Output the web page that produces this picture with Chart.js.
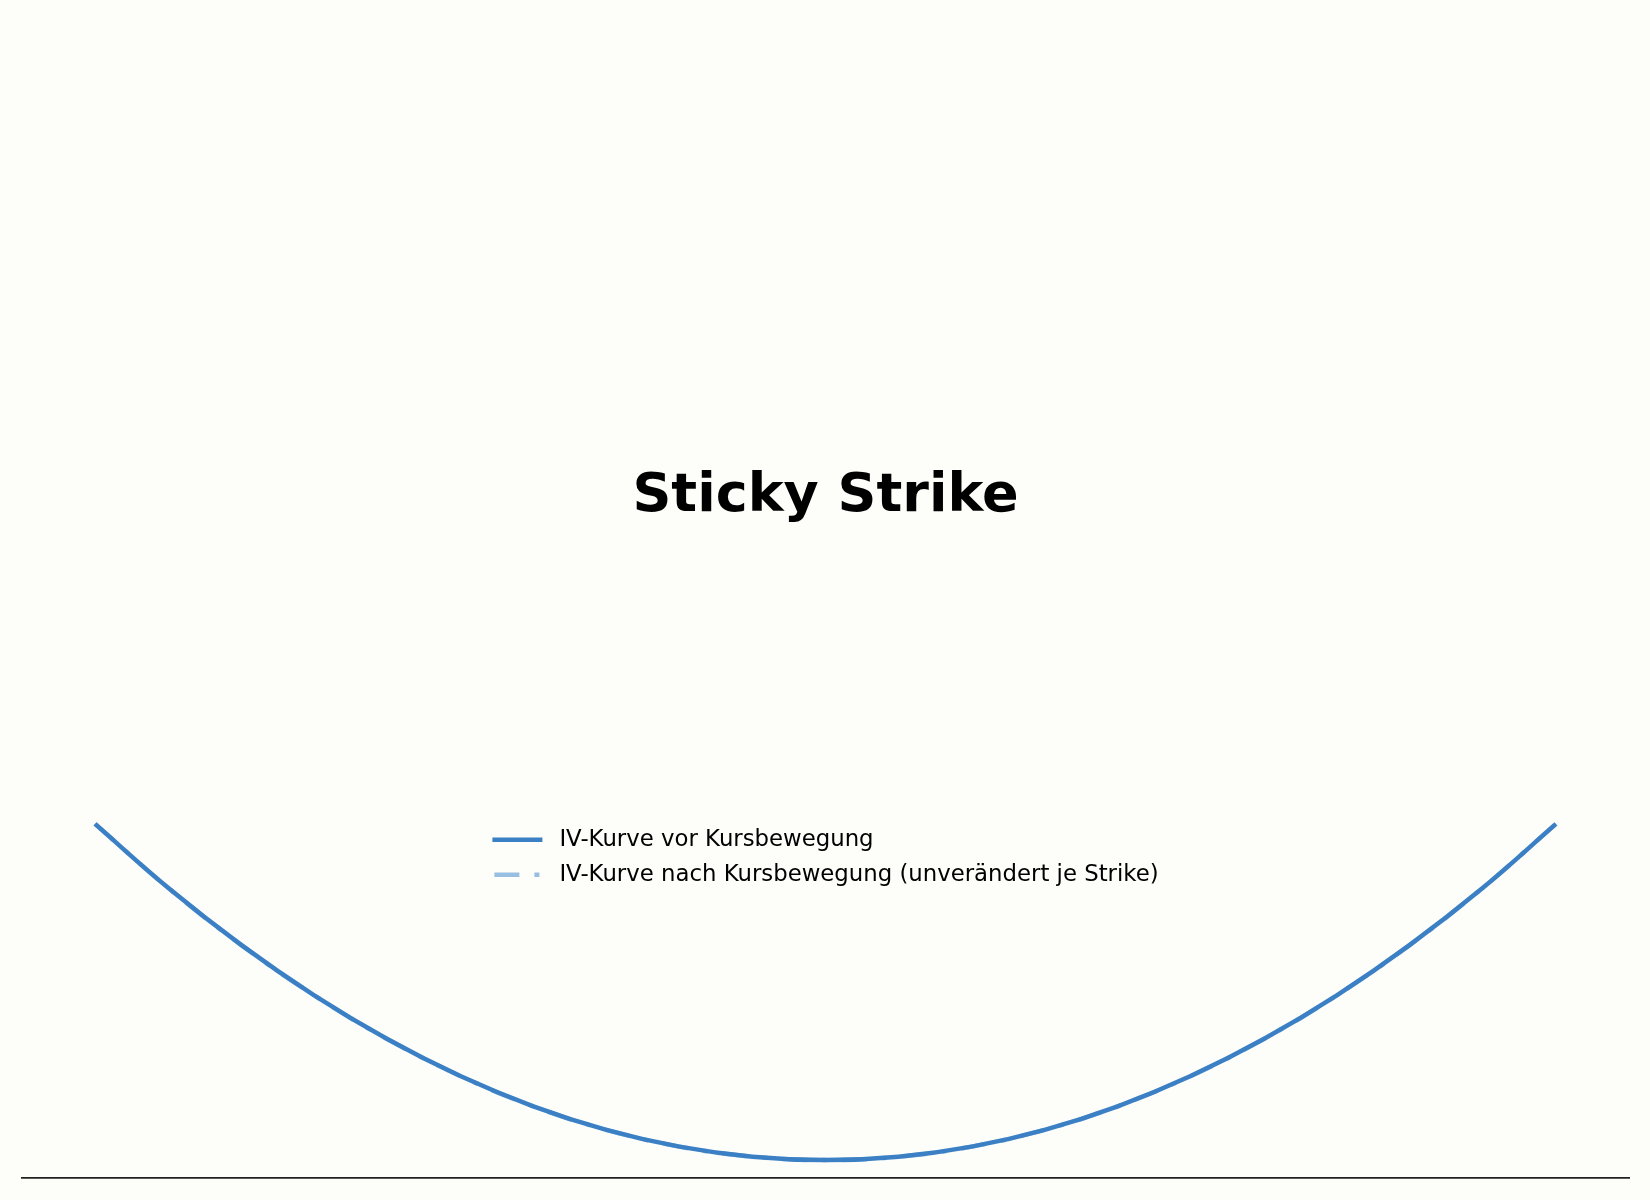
<!DOCTYPE html>
<html>
<head>
<meta charset="utf-8">
<title>Sticky Strike</title>
<script src="https://cdn.jsdelivr.net/npm/chart.js@4.4.1/dist/chart.umd.min.js"></script>
<style>
  html, body { margin: 0; padding: 0; background: #fdfdf9; }
  #wrap { width: 1650px; height: 1200px; position: relative; }
</style>
</head>
<body>
<div id="wrap"><canvas id="ivChart"></canvas></div>
<script>
// Strikes and implied volatility (%)
var strikes = [80, 82, 84, 86, 88, 90, 92, 94, 96, 98, 100, 102, 104, 106, 108, 110, 112, 114, 116, 118, 120];
var ivBefore = [30.00, 27.72, 25.68, 23.88, 22.32, 21.00, 19.92, 19.08, 18.48, 18.12, 18.00, 18.12, 18.48, 19.08, 19.92, 21.00, 22.32, 23.88, 25.68, 27.72, 30.00];
// sticky strike: the IV per strike does not change after the move
var ivAfter = [30.00, 27.72, 25.68, 23.88, 22.32, 21.00, 19.92, 19.08, 18.48, 18.12, 18.00, 18.12, 18.48, 19.08, 19.92, 21.00, 22.32, 23.88, 25.68, 27.72, 30.00];
var seriesLabels = ['IV-Kurve vor Kursbewegung', 'IV-Kurve nach Kursbewegung (unverändert je Strike)'];

function toPoints(values) {
    return strikes.map(function (k, i) { return { x: k, y: values[i] }; });
}

// Paint the figure background
var bgPlugin = {
    id: 'bg',
    beforeDraw: function (chart) {
        var ctx = chart.ctx;
        ctx.save();
        ctx.fillStyle = '#fdfdf9';
        ctx.fillRect(0, 0, chart.width, chart.height);
        ctx.restore();
    }
};

// Legend stacked in two rows, centred inside the plot area
var innerLegend = {
    id: 'innerLegend',
    afterDraw: function (chart) {
        var ctx = chart.ctx;
        var area = chart.chartArea;
        var sets = chart.data.datasets;
        var lineLen = 50, gap = 17, rowH = 35;
        ctx.save();
        ctx.font = '22.8px "DejaVu Sans"';
        var maxW = 0;
        sets.forEach(function (ds) { maxW = Math.max(maxW, ctx.measureText(ds.label).width); });
        var total = lineLen + gap + maxW;
        var x0 = (area.left + area.right) / 2 - total / 2;
        var y0 = area.top + 275;
        sets.forEach(function (ds, i) {
            var y = y0 + i * rowH;
            var dashed = ds.borderDash && ds.borderDash.length;
            ctx.strokeStyle = ds.borderColor;
            ctx.lineWidth = ds.borderWidth;
            ctx.setLineDash(ds.borderDash || []);
            ctx.beginPath();
            ctx.moveTo(x0 + (dashed ? 2 : 0), y);
            ctx.lineTo(x0 + lineLen, y);
            ctx.stroke();
            ctx.setLineDash([]);
            ctx.fillStyle = '#000';
            ctx.textBaseline = 'middle';
            ctx.fillText(ds.label, x0 + lineLen + gap, y);
        });
        ctx.restore();
    }
};

var ctxL = document.getElementById('ivChart').getContext('2d');
window.ivChart = new Chart(ctxL, {
    type: 'line',
    data: {
        datasets: [{
            label: seriesLabels[0],
            data: toPoints(ivBefore),
            borderColor: '#3b80c4',
            borderWidth: 4.5,
            pointRadius: 0,
            tension: 0.4,
            order: 1
        }, {
            label: seriesLabels[1],
            data: toPoints(ivAfter),
            borderColor: '#98bfe2',
            borderWidth: 4.5,
            borderDash: [25, 15, 5, 15],
            pointRadius: 0,
            tension: 0.4,
            order: 2
        }]
    },
    options: {
        responsive: true,
        maintainAspectRatio: false,
        animation: false,
        layout: {
            padding: { left: 22, right: 21, top: 0, bottom: 22 }
        },
        scales: {
            x: {
                type: 'linear',
                min: 78,
                max: 122,
                grid: { display: false, drawTicks: false },
                ticks: { display: false },
                border: { display: true, color: '#222222', width: 1.8 }
            },
            y: {
                display: false,
                min: 17.36,
                max: 39.25
            }
        },
        plugins: {
            legend: { display: false },
            tooltip: { enabled: false },
            title: {
                display: true,
                text: 'Sticky Strike',
                color: '#000000',
                font: { family: 'DejaVu Sans', size: 54, weight: 'bold', lineHeight: 1.2 },
                padding: { top: 465, bottom: 35 }
            }
        }
    },
    plugins: [bgPlugin, innerLegend]
});
</script>
</body>
</html>
